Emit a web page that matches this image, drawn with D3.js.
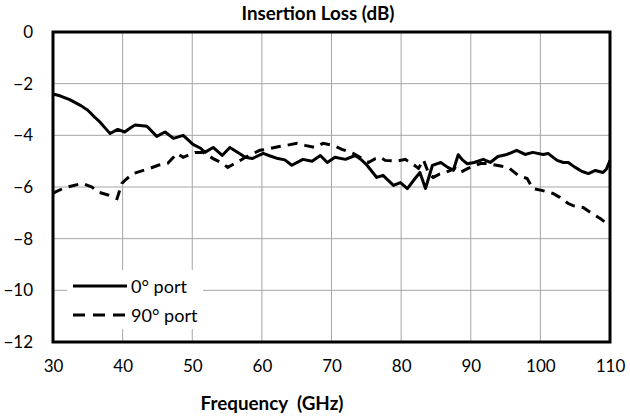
<!DOCTYPE html>
<html>
<head>
<meta charset="utf-8">
<script src="https://cdn.jsdelivr.net/npm/d3@7"></script>
<style>
  body { margin: 0; background: #fff; }
  svg text { font-family: Lato, "Open Sans", sans-serif; }
</style>
</head>
<body>
<div id="chart"></div>
<script>
// 0° port
const freq0 = [30, 31, 32.4, 34, 35, 36, 36.8, 37.6, 38.2, 39.3, 40.3, 41.2, 41.8, 43.5, 44.9, 46.1, 47.3, 48.7,
  50.1, 51.2, 51.8, 53, 54.3, 55.4, 56.9, 57.6, 58.6, 60.2, 61.2, 62.3, 63.3, 64.3, 65.9, 67.2, 68.4, 69.4,
  70.5, 72, 73.4, 74.3, 75.1, 76.5, 77.4, 78.9, 79.9, 80.9, 82, 82.7, 83.5, 84.5, 85.7, 86.7, 87.5, 88.2,
  88.8, 89.5, 90.5, 91.8, 92.8, 93.9, 95.2, 96.6, 97.8, 98.9, 100.4, 101.1, 102.4, 103.3, 104, 105, 106,
  106.9, 107.9, 109, 109.5, 110];
const loss0 = [-2.4, -2.47, -2.62, -2.85, -3.03, -3.3, -3.5, -3.75, -3.93, -3.77, -3.87, -3.7, -3.6, -3.65, -4.04, -3.87, -4.12, -4.0,
  -4.35, -4.5, -4.66, -4.47, -4.78, -4.47, -4.72, -4.85, -4.9, -4.7, -4.8, -4.9, -4.95, -5.16, -4.93, -5.0, -4.78, -5.05,
  -4.85, -4.93, -4.78, -4.95, -5.16, -5.63, -5.55, -5.94, -5.83, -6.06, -5.67, -5.44, -6.06, -5.16, -5.05, -5.24, -5.35, -4.75,
  -4.95, -5.1, -5.05, -4.93, -5.05, -4.82, -4.74, -4.58, -4.74, -4.66, -4.74, -4.7, -4.97, -5.05, -5.05, -5.24, -5.4,
  -5.48, -5.36, -5.44, -5.3, -4.97];

// 90° port
const freq90 = [30, 30.3, 31.5, 32.4, 34.2, 35.6, 36.5, 37.8, 39.2, 39.9, 40.5, 41.5, 43.9, 45.1, 46.5, 47.8, 48.7,
  50.4, 51.6, 53, 54.3, 55.1, 55.7, 56.9, 57.6, 59.7, 60.7, 62.5, 63.5, 65, 66.2, 67.6, 68.8, 70.2, 71.5,
  73.1, 74.1, 75.3, 76.3, 77, 77.7, 79.4, 80.6, 81.9, 82.5, 83.2, 84, 84.6, 85.5, 86.3, 87.8, 88.5, 89.6,
  91.4, 92.4, 94.5, 95.4, 96.8, 98.1, 98.9, 100.2, 101.8, 102.8, 104, 104.7, 106.2, 107.2, 108.6, 109.6, 110];
const loss90 = [-6.25, -6.2, -6.05, -5.98, -5.86, -6.0, -6.2, -6.3, -6.45, -5.86, -5.7, -5.48, -5.28, -5.16, -5.08, -4.7, -4.85,
  -4.66, -4.66, -4.9, -5.08, -5.24, -5.15, -4.97, -4.85, -4.58, -4.54, -4.43, -4.39, -4.31, -4.39, -4.47, -4.31, -4.39, -4.54,
  -4.7, -4.85, -5.05, -4.9, -4.85, -4.97, -5.0, -4.93, -5.16, -5.28, -4.95, -5.5, -5.63, -5.5, -5.44, -5.28, -5.44, -5.28,
  -5.09, -5.09, -5.2, -5.24, -5.55, -5.67, -6.06, -6.13, -6.25, -6.4, -6.64, -6.72, -6.8, -6.99, -7.22, -7.42, -7.5];

const xTicks = [30, 40, 50, 60, 70, 80, 90, 100, 110];
const yTicks = [0, -2, -4, -6, -8, -10, -12];
const seriesNames = ["0° port", "90° port"];

const W = 630, H = 419;
const margin = {top: 32, right: 20, bottom: 77, left: 53};
const width = W - margin.left - margin.right;
const height = H - margin.top - margin.bottom;

const svg = d3.select("#chart").append("svg")
    .attr("width", W)
    .attr("height", H);

const g = svg.append("g")
    .attr("transform", "translate(" + margin.left + "," + margin.top + ")");

const x = d3.scaleLinear().domain([30, 110]).range([0, width]);
const y = d3.scaleLinear().domain([-12, 0]).range([height, 0]);

// scale a text's font size so it spans about the given width
function fitWidth(sel, target) {
  const w = sel.node().getComputedTextLength();
  const fs = parseFloat(sel.style("font-size"));
  sel.style("font-size", (fs * target / w).toFixed(2) + "px");
}

// grid
g.append("g")
  .selectAll("line")
  .data(xTicks)
  .enter().append("line")
    .attr("x1", d => x(d)).attr("x2", d => x(d))
    .attr("y1", 0).attr("y2", height)
    .attr("stroke", "#a6a6a6").attr("stroke-width", 1);
g.append("g")
  .selectAll("line")
  .data(yTicks)
  .enter().append("line")
    .attr("x1", 0).attr("x2", width)
    .attr("y1", d => y(d)).attr("y2", d => y(d))
    .attr("stroke", "#a6a6a6").attr("stroke-width", 1);

// tick labels
const xAxis = g.append("g")
    .attr("transform", "translate(0," + height + ")")
    .call(d3.axisBottom(x).tickValues(xTicks).tickSize(0).tickPadding(18));
const yAxis = g.append("g")
    .call(d3.axisLeft(y).tickValues(yTicks).tickSize(0).tickPadding(20));
[xAxis, yAxis].forEach(a => {
  a.select(".domain").remove();
  a.selectAll("text").style("font-size", "17px").attr("fill", "#000");
});

// series
const line = d3.line().x(d => x(d[0])).y(d => y(d[1]));
const data0 = freq0.map((f, i) => [f, loss0[i]]);
const data90 = freq90.map((f, i) => [f, loss90[i]]);

g.append("path").datum(data90)
    .attr("d", line)
    .attr("fill", "none").attr("stroke", "#000")
    .attr("stroke-width", 3).attr("stroke-dasharray", "10,7");
g.append("path").datum(data0)
    .attr("d", line)
    .attr("fill", "none").attr("stroke", "#000")
    .attr("stroke-width", 3).attr("stroke-linejoin", "round");

// frame
g.append("rect")
    .attr("width", width).attr("height", height)
    .attr("fill", "none").attr("stroke", "#000").attr("stroke-width", 3);

// legend
const leg = svg.append("g").attr("transform", "translate(67,270)");
leg.append("rect")
    .attr("width", 136).attr("height", 59)
    .attr("fill", "#fff");
const legText = [];
seriesNames.forEach((name, i) => {
  const yy = 16 + i * 29;
  leg.append("line")
    .attr("x1", 6).attr("x2", 60)
    .attr("y1", yy).attr("y2", yy)
    .attr("stroke", "#000").attr("stroke-width", 3)
    .attr("stroke-dasharray", i === 1 ? "12,8" : null);
  legText.push(leg.append("text")
    .attr("x", 64).attr("y", yy + 7)
    .style("font-size", "16px")
    .text(name));
});
fitWidth(legText[0], 56);
legText[1].style("font-size", legText[0].style("font-size"));

// titles
const title = svg.append("text")
    .attr("x", 318).attr("y", 20)
    .attr("text-anchor", "middle")
    .style("font-size", "16px").style("font-weight", "bold")
    .text("Insertion Loss (dB)");
fitWidth(title, 153);
const xTitle = svg.append("text")
    .attr("x", 272).attr("y", 410)
    .attr("text-anchor", "middle")
    .style("font-size", "16px").style("font-weight", "bold")
    .style("white-space", "pre")
    .text("Frequency  (GHz)");
fitWidth(xTitle, 143);
</script>
</body>
</html>
